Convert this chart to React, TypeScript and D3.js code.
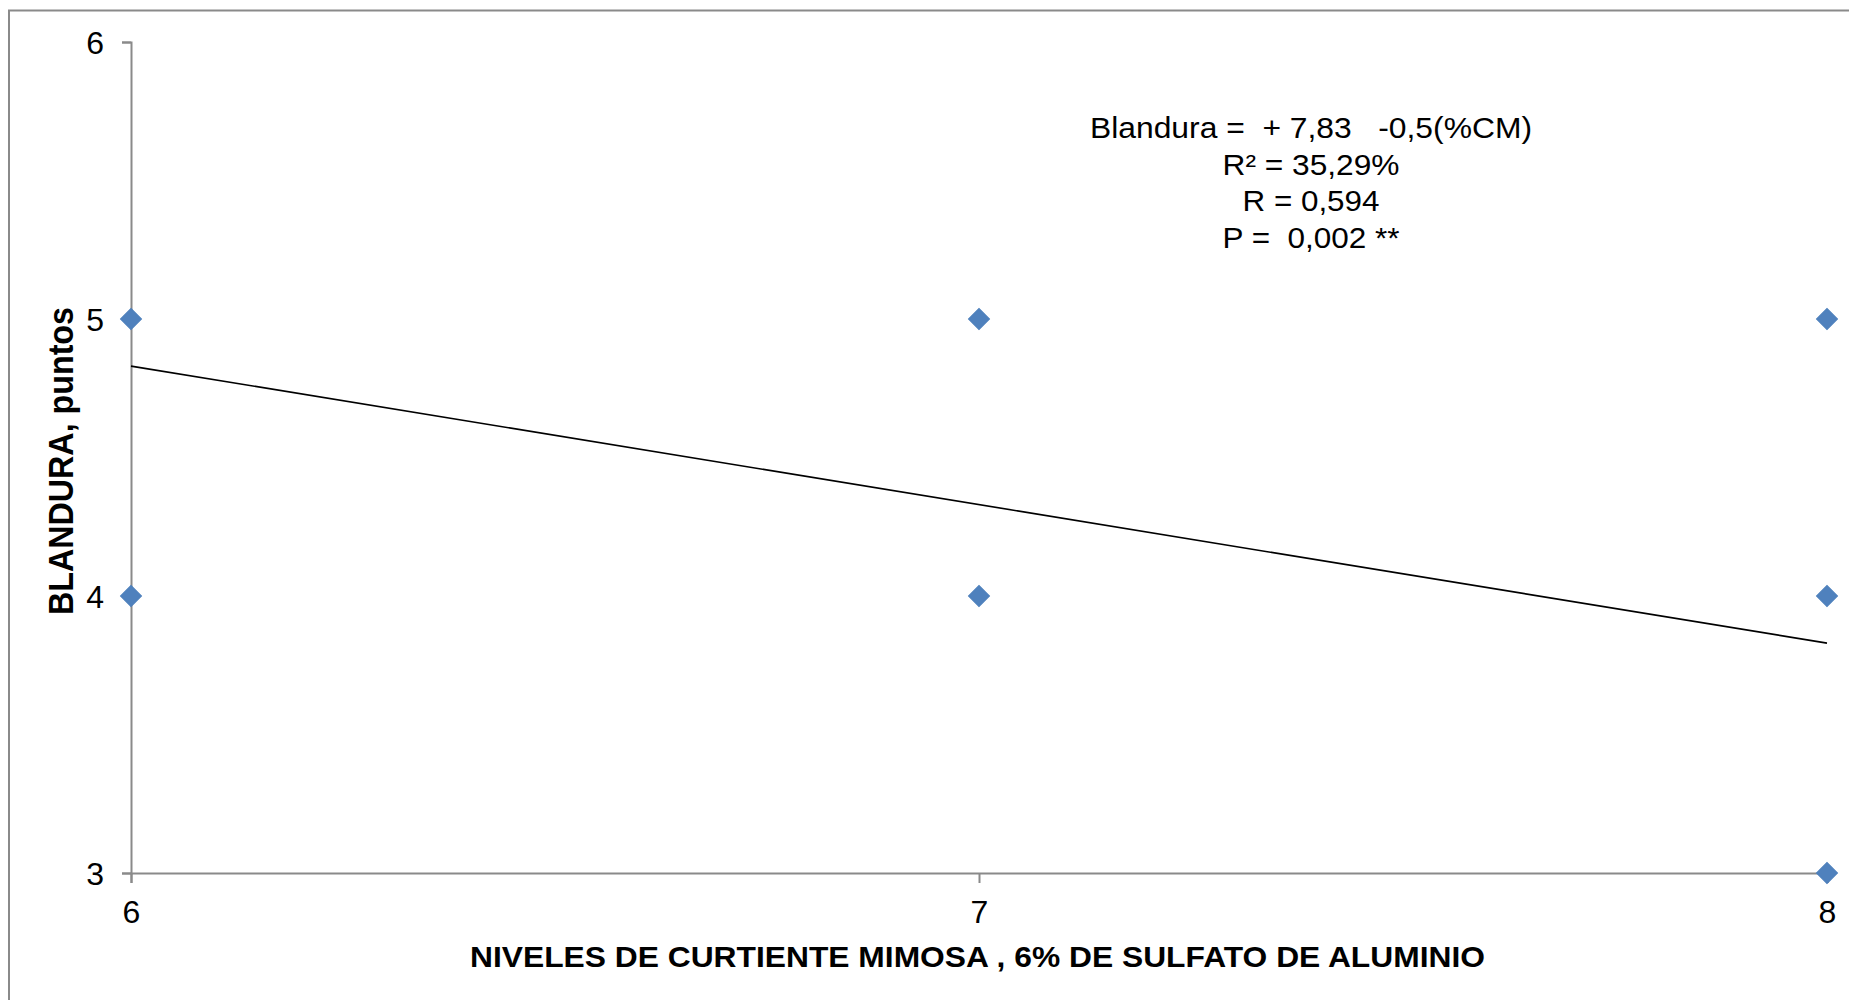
import React, { useRef, useEffect } from 'react';
import * as d3 from 'd3';

// niveles de curtiente mimosa (%) vs blandura (puntos)
const xValues = [6, 6, 7, 7, 8, 8, 8];
const yValues = [5, 4, 5, 4, 5, 4, 3];
const xTicks = [6, 7, 8];
const yTicks = [3, 4, 5, 6];
const intercept = 7.83;
const slope = -0.5;
const equationLines = ['Blandura =  + 7,83   -0,5(%CM)', 'R² = 35,29%', 'R = 0,594', 'P =  0,002 **'];
const equationWidths = [442, 177, 137, 177];
const xTitle = 'NIVELES DE CURTIENTE MIMOSA , 6% DE SULFATO DE ALUMINIO';
const yTitle = 'BLANDURA, puntos';

const App = () => {
    const chartRef = useRef(null);

    useEffect(() => {
        const width = 1849;
        const height = 1000;
        const left = 131;
        const right = 1827;
        const top = 42;
        const bottom = 873;
        const axisColor = '#8a8a8a';
        const font = 'Liberation Sans, Arial, sans-serif';

        const svg = d3.select(chartRef.current)
            .attr('width', width)
            .attr('height', height);
        svg.selectAll('*').remove();

        svg.append('rect')
            .attr('x', 9)
            .attr('y', 10.5)
            .attr('width', 2000)
            .attr('height', 1200)
            .attr('fill', 'white')
            .attr('stroke', axisColor)
            .attr('stroke-width', 2);

        const x = d3.scaleLinear().domain([6, 8]).range([left, right]);
        const y = d3.scaleLinear().domain([3, 6]).range([bottom, top]);

        const yAxis = svg.append('g')
            .attr('transform', `translate(${left},0)`)
            .call(d3.axisLeft(y).tickValues(yTicks).tickSize(9).tickPadding(18).tickFormat(d3.format('d')));
        const xAxis = svg.append('g')
            .attr('transform', `translate(0,${bottom})`)
            .call(d3.axisBottom(x).tickValues(xTicks).tickSize(10).tickPadding(17).tickFormat(d3.format('d')));

        [xAxis, yAxis].forEach(g => {
            g.attr('font-size', null).attr('font-family', null);
            g.select('.domain').attr('stroke', axisColor).attr('stroke-width', 2);
            g.selectAll('.tick line').attr('stroke', axisColor).attr('stroke-width', 2);
            g.selectAll('.tick text')
                .attr('fill', 'black')
                .style('font-family', font)
                .style('font-size', '32px');
        });
        yAxis.selectAll('.tick text').attr('dy', '0.36em');
        xAxis.selectAll('.tick text').attr('dy', '0.71em');

        // linea de tendencia
        const fit = d3.line()
            .x(d => x(d))
            .y(d => y(intercept + slope * d));
        svg.append('path')
            .datum([6, 8])
            .attr('d', fit)
            .attr('fill', 'none')
            .attr('stroke', 'black')
            .attr('stroke-width', 1.6);

        const diamond = d3.symbol().type(d3.symbolSquare).size(220);
        svg.append('g')
            .selectAll('path')
            .data(xValues.map((v, i) => [v, yValues[i]]))
            .enter().append('path')
            .attr('d', diamond)
            .attr('transform', d => `translate(${x(d[0])},${y(d[1])}) rotate(45)`)
            .attr('fill', '#4f81bd')
            .attr('stroke', '#4a7ebb')
            .attr('stroke-width', 1);

        svg.append('g')
            .selectAll('text')
            .data(equationLines)
            .enter().append('text')
            .attr('x', 1311)
            .attr('y', (d, i) => 138 + i * 36.7)
            .attr('text-anchor', 'middle')
            .attr('textLength', (d, i) => equationWidths[i])
            .attr('lengthAdjust', 'spacingAndGlyphs')
            .style('white-space', 'pre')
            .style('font-family', font)
            .style('font-size', '29px')
            .text(d => d);

        svg.append('text')
            .attr('x', 977.5)
            .attr('y', 967)
            .attr('text-anchor', 'middle')
            .attr('textLength', 1015)
            .attr('lengthAdjust', 'spacingAndGlyphs')
            .style('font-family', font)
            .style('font-size', '30px')
            .style('font-weight', 'bold')
            .text(xTitle);

        svg.append('text')
            .attr('transform', 'translate(73,461) rotate(-90)')
            .attr('text-anchor', 'middle')
            .attr('textLength', 308)
            .attr('lengthAdjust', 'spacingAndGlyphs')
            .style('font-family', font)
            .style('font-size', '35px')
            .style('font-weight', 'bold')
            .text(yTitle);
    }, []);

    return (
        <div style={{ position: 'fixed', top: 0, left: 0, width: 1849, height: 1000, overflow: 'hidden', background: 'white' }}>
            <svg ref={chartRef} style={{ display: 'block' }}></svg>
        </div>
    );
};

export default App;
